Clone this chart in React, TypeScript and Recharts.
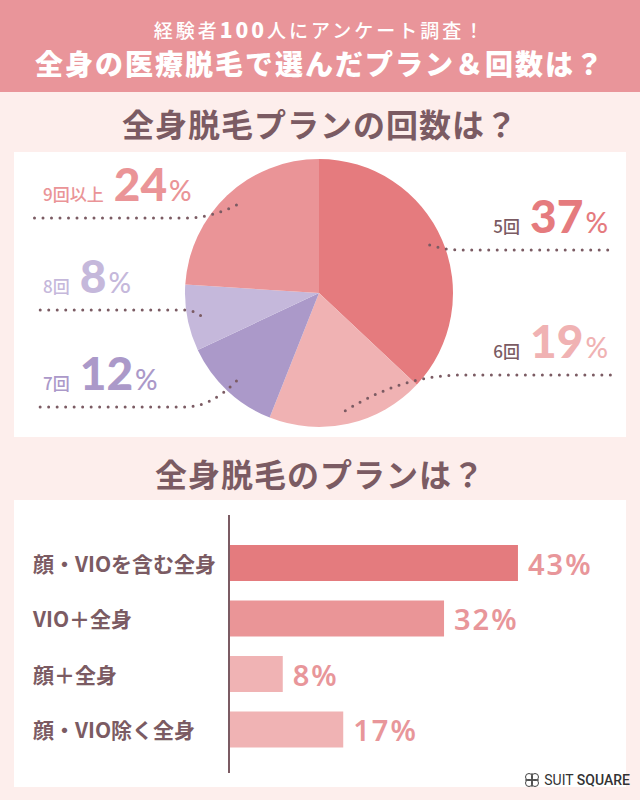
import React from "react";
import {
  PieChart,
  Pie,
  Cell,
  BarChart,
  Bar,
  XAxis,
  YAxis,
  LabelList,
} from "recharts";

// 全身脱毛プランの回数
const COUNT_LABELS = ["5回", "6回", "7回", "8回", "9回以上"];
const COUNT_VALUES = [37, 19, 12, 8, 24];

// 全身脱毛のプラン
const PLAN_LABELS = ["顔・VIOを含む全身", "VIO＋全身", "顔＋全身", "顔・VIO除く全身"];
const PLAN_VALUES = [43, 32, 8, 17];

const pieData = COUNT_LABELS.map((name, i) => ({ name, value: COUNT_VALUES[i] }));
const barData = PLAN_LABELS.map((name, i) => ({ name, value: PLAN_VALUES[i] }));

const BROWN = "#7b5b63";
const PIE_COLORS = ["#e57b7e", "#f0b2b3", "#ab99c9", "#c5b8db", "#ea9497"];
const NAME_COLORS = [BROWN, BROWN, "#ab99c9", "#c5b8db", "#ea9497"];
const BAR_COLORS = ["#e47b7e", "#ea9597", "#f0b3b4", "#f0b3b4"];
// leader line height relative to pie centre
const LEADER_DY = [-43, 82, 114, 17, -75];

const JP = "'Noto Sans CJK JP', 'Noto Sans', sans-serif";
const NUM = "Lato, 'Noto Sans', sans-serif";
const PIE_W = 612;
const PIE_H = 285;

const renderPieLabel = (props: any) => {
  const { cx, cy, midAngle, outerRadius, index } = props;
  const rad = Math.PI / 180;
  const sx = cx + outerRadius * 0.9 * Math.cos(-midAngle * rad);
  const sy = cy + outerRadius * 0.9 * Math.sin(-midAngle * rad);
  const right = Math.cos(-midAngle * rad) > 0;
  const ly = cy + LEADER_DY[index];
  const kx = right ? cx + outerRadius + 8 : cx - outerRadius;
  const ex = right ? PIE_W - 13 : 19;
  const qx = (sx + kx) / 2;
  const d = `M${sx},${sy} Q${qx},${ly} ${kx},${ly} L${ex},${ly}`;
  const tx = right ? ex - 5 : ex + 10;
  return (
    <g key={`lbl-${index}`}>
      <path
        d={d}
        fill="none"
        stroke={BROWN}
        strokeWidth={3}
        strokeLinecap="round"
        strokeDasharray="0 8.5"
      />
      <text x={tx} y={ly - 17} textAnchor={right ? "end" : "start"}>
        <tspan fontFamily={JP} fontSize={17} fontWeight={500} fill={NAME_COLORS[index]}>
          {COUNT_LABELS[index]}
        </tspan>
        <tspan dx={10} fontFamily={NUM} fontSize={46} fontWeight={900} fill={PIE_COLORS[index]}>
          {COUNT_VALUES[index]}
        </tspan>
        <tspan dx={2} fontFamily={NUM} fontSize={28} fontWeight={500} fill={PIE_COLORS[index]}>
          %
        </tspan>
      </text>
    </g>
  );
};

const PlanTick = (props: any) => {
  const { y, payload } = props;
  return (
    <text
      x={19}
      y={y}
      dominantBaseline="central"
      fontFamily={JP}
      fontSize={21}
      fontWeight={700}
      fill={BROWN}
    >
      {payload.value}
    </text>
  );
};

const ValueLabel = (props: any) => {
  const { x, y, width, height, value } = props;
  return (
    <text
      x={x + width + 10}
      y={y + height / 2}
      dominantBaseline="central"
      fontFamily="'Noto Sans', sans-serif"
      fontSize={29}
      fontWeight={600}
      letterSpacing={2}
      fill="#e8969a"
    >
      {value}%
    </text>
  );
};

const sectionTitle = (top: number): React.CSSProperties => ({
  position: "absolute",
  left: 0,
  top,
  width: 640,
  height: 32,
  lineHeight: "32px",
  textAlign: "center",
  fontSize: 32,
  fontWeight: 700,
  letterSpacing: 1,
  color: BROWN,
});

export default function App() {
  return (
    <div
      style={{
        position: "absolute",
        left: 0,
        top: 0,
        width: 640,
        height: 800,
        overflow: "hidden",
        background: "#fdeeec",
        fontFamily: JP,
      }}
    >
      <div
        style={{
          position: "absolute",
          left: 0,
          top: 0,
          width: 640,
          height: 92,
          background: "#e9959a",
          color: "#fff",
          textAlign: "center",
        }}
      >
        <div
          style={{
            position: "absolute",
            left: 0,
            top: 18,
            width: 640,
            height: 22,
            lineHeight: "22px",
            fontSize: 19,
            fontWeight: 500,
            letterSpacing: 3,
          }}
        >
          経験者<span style={{ fontWeight: 900, fontSize: 21 }}>100</span>人にアンケート調査！
        </div>
        <div
          style={{
            position: "absolute",
            left: 0,
            top: 48,
            width: 640,
            height: 30,
            lineHeight: "30px",
            fontSize: 28,
            fontWeight: 900,
            letterSpacing: 2,
          }}
        >
          全身の医療脱毛で選んだプラン＆回数は？
        </div>
      </div>

      <div style={sectionTitle(107)}>全身脱毛プランの回数は？</div>

      <div
        style={{
          position: "absolute",
          left: 14,
          top: 152,
          width: PIE_W,
          height: PIE_H,
          background: "#fff",
        }}
      >
        <PieChart width={PIE_W} height={PIE_H} margin={{ top: 0, right: 0, bottom: 0, left: 0 }}>
          <Pie
            data={pieData}
            dataKey="value"
            nameKey="name"
            cx={305}
            cy={141}
            outerRadius={134}
            startAngle={90}
            endAngle={-270}
            stroke="none"
            label={renderPieLabel}
            labelLine={false}
            isAnimationActive={false}
          >
            {pieData.map((d, i) => (
              <Cell key={d.name} fill={PIE_COLORS[i]} />
            ))}
          </Pie>
        </PieChart>
      </div>

      <div style={sectionTitle(457)}>全身脱毛のプランは？</div>

      <div
        style={{
          position: "absolute",
          left: 14,
          top: 500,
          width: 612,
          height: 287,
          background: "#fff",
        }}
      >
        <BarChart
          width={612}
          height={287}
          data={barData}
          layout="vertical"
          margin={{ top: 15, right: 61, bottom: 14, left: 0 }}
        >
          <XAxis type="number" domain={[0, 50]} hide />
          <YAxis
            type="category"
            dataKey="name"
            width={215}
            axisLine={{ stroke: BROWN, strokeWidth: 2 }}
            tickLine={false}
            tick={<PlanTick />}
            padding={{ top: 20, bottom: 16 }}
          />
          <Bar dataKey="value" barSize={36} isAnimationActive={false}>
            {barData.map((d, i) => (
              <Cell key={d.name} fill={BAR_COLORS[i]} />
            ))}
            <LabelList dataKey="value" content={<ValueLabel />} />
          </Bar>
        </BarChart>
      </div>

      <div
        style={{
          position: "absolute",
          right: 10,
          top: 772,
          height: 16,
          display: "flex",
          alignItems: "center",
          gap: 4,
          fontFamily: "Roboto, sans-serif",
          fontSize: 14,
          color: "#333",
        }}
      >
        <svg width={16} height={16} viewBox="0 0 16 16">
          <g fill="none" stroke="#444" strokeWidth={1}>
            <circle cx={5} cy={5} r={3.5} />
            <circle cx={11} cy={5} r={3.5} />
            <circle cx={5} cy={11} r={3.5} />
            <circle cx={11} cy={11} r={3.5} />
            <line x1={8} y1={1} x2={8} y2={15} />
            <line x1={1} y1={8} x2={15} y2={8} />
          </g>
        </svg>
        <span>
          SUIT <span style={{ fontWeight: 500 }}>SQUARE</span>
        </span>
      </div>
    </div>
  );
}
